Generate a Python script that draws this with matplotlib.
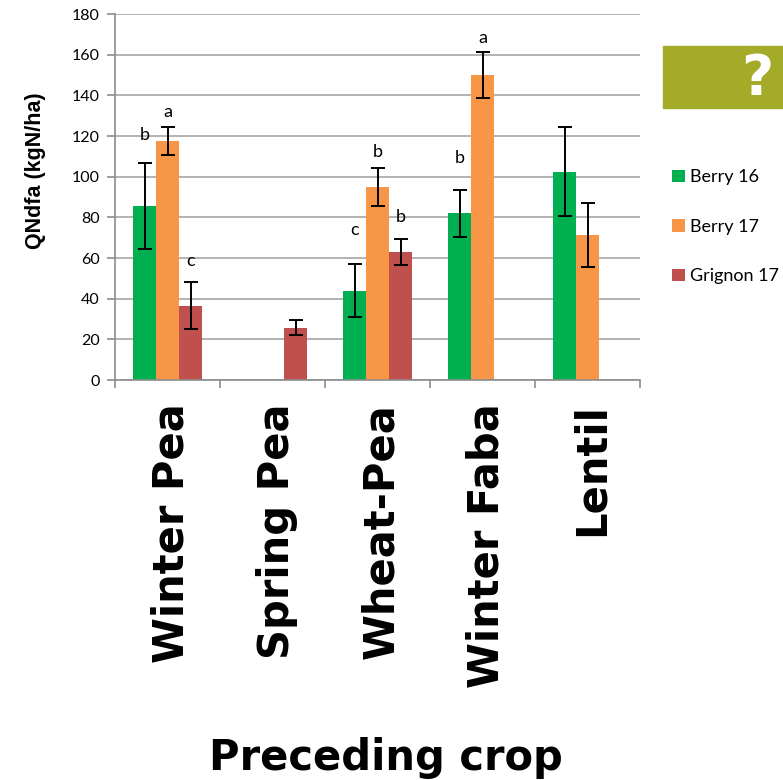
import numpy as np
import matplotlib.pyplot as plt
from matplotlib.patches import Rectangle

# Preceding crops and QNdfa means / standard errors per site-year
crops = ["Winter Pea", "Spring Pea", "Wheat-Pea", "Winter Faba", "Lentil"]
series = ["Berry 16", "Berry 17", "Grignon 17"]
colors = ["#00b050", "#f79646", "#c0504d"]

berry16 = [85.5, np.nan, 44.0, 82.0, 102.5]
berry16_err = [21.0, np.nan, 13.0, 11.6, 21.7]
berry17 = [117.5, np.nan, 94.8, 150.0, 71.5]
berry17_err = [7.0, np.nan, 9.3, 11.5, 15.8]
grignon17 = [36.5, 25.8, 63.0, np.nan, np.nan]
grignon17_err = [11.5, 3.8, 6.4, np.nan, np.nan]

# significance letters: (crop index, series index, letter, y position)
letters = [
    (0, 0, "b", 120.5), (0, 1, "a", 131.8), (0, 2, "c", 58.5),
    (2, 0, "c", 73.8), (2, 1, "b", 112.0), (2, 2, "b", 80.0),
    (3, 0, "b", 109.3), (3, 1, "a", 168.0),
]

values = [berry16, berry17, grignon17]
errors = [berry16_err, berry17_err, grignon17_err]

fig = plt.figure(figsize=(7.83, 7.80), dpi=100)
ax = fig.add_axes([0.1469, 0.5128, 0.6705, 0.4692])

x = np.arange(len(crops))
width = 0.219
for i, (vals, errs) in enumerate(zip(values, errors)):
    pos = x + (i - 1) * width
    ax.bar(pos, vals, width, color=colors[i], label=series[i], zorder=2)
    ax.errorbar(pos, vals, yerr=errs, fmt="none", ecolor="black",
                elinewidth=1.4, capsize=5, capthick=1.4, zorder=3)

for ci, si, txt, yv in letters:
    ax.text(x[ci] + (si - 1) * width, yv, txt, ha="center", va="center",
            fontsize=13, family="Lato", color="black")

ax.set_xlim(-0.5, len(crops) - 0.5)
ax.set_ylim(0, 180)
ax.set_yticks(np.arange(0, 181, 20))
ax.yaxis.grid(True, color="#a6a6a6", linewidth=1.2, zorder=0)
ax.set_axisbelow(True)
for s in ["top", "right"]:
    ax.spines[s].set_visible(False)
for s in ["left", "bottom"]:
    ax.spines[s].set_color("#8c8c8c")
    ax.spines[s].set_linewidth(1.2)

ax.set_xticks(np.arange(len(crops) + 1) - 0.5, minor=False)
ax.set_xticklabels([])
ax.tick_params(axis="x", direction="out", length=6, color="#8c8c8c", width=1.2)
ax.tick_params(axis="y", direction="out", length=6, color="#8c8c8c", width=1.2,
               labelsize=11.5, pad=5)
for lab in ax.get_yticklabels():
    lab.set_family("Lato")

for i, name in enumerate(crops):
    ax.text(x[i] + 0.04, -11.5, name, rotation=90, ha="center", va="top",
            fontsize=30, fontweight="bold", family="DejaVu Sans")

ax.set_ylabel("QNdfa (kgN/ha)", fontsize=15.5, fontweight="bold",
              family="Liberation Sans")
ax.yaxis.set_label_coords(-0.131, 0.573)
fig.text(0.493, 0.028, "Preceding crop", ha="center", va="center",
         fontsize=30, fontweight="bold", family="DejaVu Sans")

leg = ax.legend(loc="upper left", bbox_to_anchor=(1.03, 0.62), frameon=False,
                prop={"family": "Lato", "size": 13}, handlelength=0.7,
                handleheight=0.7, handletextpad=0.3, labelspacing=1.85)

# olive badge with question mark
fig.patches.append(Rectangle((663 / 783, 1 - 108 / 780), 120 / 783, 62 / 780,
                             transform=fig.transFigure, color="#a4ab28"))
fig.text(757 / 783, 1 - 79 / 780, "?", ha="center", va="center", color="white",
         fontsize=40, fontweight="bold", family="DejaVu Sans")

fig.savefig("out.png", dpi=100)
